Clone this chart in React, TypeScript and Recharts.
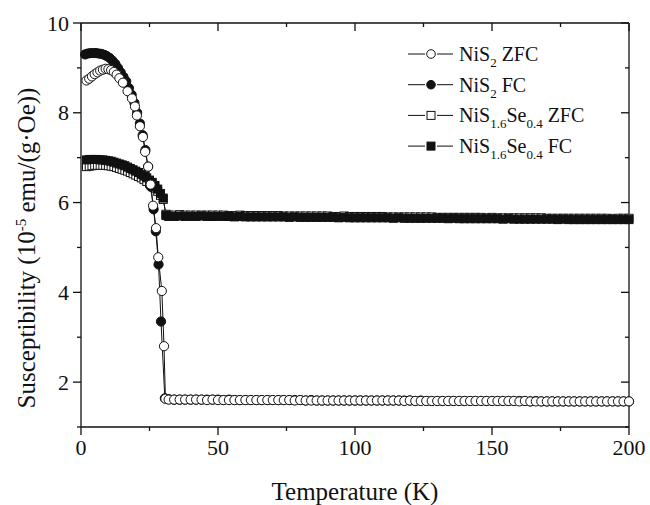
import { LineChart, Line, XAxis, YAxis } from "recharts";

const FONT = "'Liberation Serif', 'Times New Roman', serif";

// axis ticks
const xTicks = [0, 25, 50, 75, 100, 125, 150, 175, 200];
const xMajor = [0, 50, 100, 150, 200];
const yTicks = [1, 2, 3, 4, 5, 6, 7, 8, 9, 10];
const yMajor = [2, 4, 6, 8, 10];

// NiS2 ZFC, low temperature part
const nisZfcLowT = [2, 3, 4, 5, 6, 7, 8, 9, 10, 11, 12, 13, 14, 15.3, 17, 18.6, 19.7, 20.4, 21.5, 22.6, 23.4, 24.5, 25.4, 26.3, 27.4, 28.2, 29.5, 30.3, 30.8];
const nisZfcLowV = [8.72, 8.76, 8.81, 8.86, 8.9, 8.94, 8.96, 8.98, 8.97, 8.95, 8.91, 8.85, 8.77, 8.67, 8.48, 8.32, 8.14, 7.94, 7.7, 7.46, 7.13, 6.8, 6.4, 5.93, 5.43, 4.78, 4.03, 2.8, 1.63];

// NiS2 FC, low temperature part
const nisFcLowT = [1.5, 2.5, 3.5, 4.5, 5.5, 6.5, 7.5, 8.5, 9.5, 10.5, 11.5, 12.5, 13.5, 14.5, 15.5, 16.5, 17.5, 18.5, 19.5, 20.5, 21.5, 22.5, 23.5, 24.5, 25.5, 26.5, 27.3, 28.3, 29.2, 30.6];
const nisFcLowV = [9.3, 9.32, 9.33, 9.33, 9.33, 9.32, 9.31, 9.29, 9.26, 9.22, 9.16, 9.09, 9.0, 8.9, 8.8, 8.7, 8.55, 8.4, 8.22, 8.0, 7.76, 7.5, 7.17, 6.8, 6.35, 5.85, 5.36, 4.62, 3.35, 1.64];

// NiS1.6Se0.4, low temperature part
const seLowT = [2, 3, 4, 5, 6, 7, 8, 9, 10, 11, 12, 13, 14, 15, 16, 17, 18, 19, 20, 21, 22, 23, 24, 25, 26, 27, 28, 29, 30, 31];
const seZfcLowV = [6.8, 6.81, 6.82, 6.83, 6.83, 6.83, 6.83, 6.83, 6.82, 6.81, 6.8, 6.78, 6.76, 6.74, 6.72, 6.7, 6.67, 6.64, 6.61, 6.58, 6.55, 6.51, 6.47, 6.43, 6.38, 6.32, 6.25, 6.16, 6.07, 5.74];
const seFcLowV = [6.95, 6.96, 6.96, 6.96, 6.96, 6.95, 6.95, 6.94, 6.93, 6.92, 6.9, 6.88, 6.86, 6.84, 6.82, 6.79, 6.76, 6.73, 6.7, 6.67, 6.63, 6.59, 6.55, 6.5, 6.45, 6.38, 6.3, 6.2, 6.1, 5.71];

// above the transition, T = 32 ... 200 K
const highT = [
  32, 34, 36, 38, 40, 42, 44, 46, 48, 50,
  52, 54, 56, 58, 60, 62, 64, 66, 68, 70,
  72, 74, 76, 78, 80, 82, 84, 86, 88, 90,
  92, 94, 96, 98, 100, 102, 104, 106, 108, 110,
  112, 114, 116, 118, 120, 122, 124, 126, 128, 130,
  132, 134, 136, 138, 140, 142, 144, 146, 148, 150,
  152, 154, 156, 158, 160, 162, 164, 166, 168, 170,
  172, 174, 176, 178, 180, 182, 184, 186, 188, 190,
  192, 194, 196, 198, 200,
];
const nisZfcHighV = [
  1.61, 1.61, 1.61, 1.61, 1.61, 1.61, 1.61, 1.6, 1.61, 1.6,
  1.6, 1.6, 1.6, 1.6, 1.6, 1.6, 1.6, 1.6, 1.6, 1.6,
  1.6, 1.6, 1.6, 1.59, 1.6, 1.59, 1.59, 1.59, 1.59, 1.59,
  1.59, 1.59, 1.59, 1.59, 1.59, 1.59, 1.59, 1.59, 1.59, 1.59,
  1.59, 1.59, 1.59, 1.58, 1.59, 1.58, 1.58, 1.58, 1.58, 1.58,
  1.58, 1.58, 1.58, 1.58, 1.58, 1.58, 1.58, 1.58, 1.58, 1.58,
  1.58, 1.58, 1.58, 1.58, 1.57, 1.58, 1.57, 1.57, 1.57, 1.57,
  1.57, 1.57, 1.57, 1.57, 1.57, 1.57, 1.57, 1.57, 1.57, 1.57,
  1.57, 1.57, 1.57, 1.57, 1.57,
];
const nisFcHighV = [
  1.62, 1.61, 1.61, 1.61, 1.61, 1.61, 1.61, 1.61, 1.61, 1.61,
  1.6, 1.61, 1.6, 1.6, 1.6, 1.6, 1.6, 1.6, 1.6, 1.6,
  1.6, 1.6, 1.6, 1.6, 1.6, 1.59, 1.6, 1.59, 1.59, 1.59,
  1.59, 1.59, 1.59, 1.59, 1.59, 1.59, 1.59, 1.59, 1.59, 1.59,
  1.59, 1.59, 1.59, 1.59, 1.59, 1.58, 1.59, 1.58, 1.58, 1.58,
  1.58, 1.58, 1.58, 1.58, 1.58, 1.58, 1.58, 1.58, 1.58, 1.58,
  1.58, 1.58, 1.58, 1.58, 1.58, 1.58, 1.57, 1.58, 1.57, 1.57,
  1.57, 1.57, 1.57, 1.57, 1.57, 1.57, 1.57, 1.57, 1.57, 1.57,
  1.57, 1.57, 1.57, 1.57, 1.57,
];
const seZfcHighV = [
  5.72, 5.72, 5.73, 5.72, 5.72, 5.72, 5.72, 5.72, 5.72, 5.72,
  5.72, 5.71, 5.71, 5.72, 5.71, 5.71, 5.71, 5.71, 5.71, 5.71,
  5.71, 5.7, 5.7, 5.7, 5.7, 5.7, 5.7, 5.7, 5.7, 5.7,
  5.69, 5.69, 5.7, 5.69, 5.69, 5.69, 5.69, 5.69, 5.69, 5.69,
  5.68, 5.68, 5.68, 5.68, 5.68, 5.68, 5.68, 5.68, 5.68, 5.67,
  5.67, 5.67, 5.67, 5.67, 5.67, 5.67, 5.67, 5.67, 5.66, 5.67,
  5.66, 5.66, 5.66, 5.66, 5.66, 5.66, 5.66, 5.66, 5.66, 5.65,
  5.65, 5.65, 5.65, 5.65, 5.65, 5.65, 5.65, 5.65, 5.65, 5.65,
  5.65, 5.64, 5.65, 5.65, 5.65,
];
const seFcHighV = [
  5.69, 5.69, 5.7, 5.69, 5.69, 5.69, 5.7, 5.69, 5.69, 5.69,
  5.69, 5.69, 5.68, 5.69, 5.68, 5.68, 5.68, 5.68, 5.68, 5.68,
  5.68, 5.68, 5.67, 5.68, 5.67, 5.67, 5.67, 5.67, 5.67, 5.67,
  5.67, 5.66, 5.67, 5.66, 5.66, 5.66, 5.66, 5.66, 5.66, 5.66,
  5.66, 5.65, 5.66, 5.65, 5.65, 5.65, 5.65, 5.65, 5.65, 5.65,
  5.65, 5.64, 5.65, 5.64, 5.64, 5.64, 5.64, 5.64, 5.64, 5.64,
  5.64, 5.63, 5.64, 5.63, 5.63, 5.63, 5.63, 5.63, 5.63, 5.63,
  5.63, 5.62, 5.63, 5.62, 5.62, 5.62, 5.62, 5.62, 5.62, 5.62,
  5.62, 5.62, 5.62, 5.62, 5.62,
];

const rows = (t: number[], v: number[]) => t.map((x, i) => ({ t: x, v: v[i] }));

const nisZfc = rows([...nisZfcLowT, ...highT], [...nisZfcLowV, ...nisZfcHighV]);
const nisFc = rows([...nisFcLowT, ...highT], [...nisFcLowV, ...nisFcHighV]);
const seZfc = rows([...seLowT, ...highT], [...seZfcLowV, ...seZfcHighV]);
const seFc = rows([...seLowT, ...highT], [...seFcLowV, ...seFcHighV]);

const INK = "#111";

const openCircle = (p: any) => (
  <circle key={`oc${p.index}`} cx={p.cx} cy={p.cy} r={4.6} fill="#fff" stroke={INK} strokeWidth={1} />
);
const fullCircle = (p: any) => (
  <circle key={`fc${p.index}`} cx={p.cx} cy={p.cy} r={4.6} fill={INK} stroke={INK} strokeWidth={1} />
);
const openSquare = (p: any) => (
  <rect key={`os${p.index}`} x={p.cx - 4} y={p.cy - 4} width={8} height={8} fill="#fff" stroke={INK} strokeWidth={1} />
);
const fullSquare = (p: any) => (
  <rect key={`fs${p.index}`} x={p.cx - 4} y={p.cy - 4} width={8} height={8} fill={INK} stroke={INK} strokeWidth={1} />
);

const BottomTick = (p: any) => {
  const v = p.payload.value;
  const major = xMajor.includes(v);
  return (
    <g>
      <line x1={p.x} y1={p.y} x2={p.x} y2={p.y + (major ? 8 : 4)} stroke={INK} strokeWidth={1.3} />
      {major && (
        <text x={p.x} y={p.y + 28} textAnchor="middle" fontSize={22} fontFamily={FONT} fill={INK}>
          {v}
        </text>
      )}
    </g>
  );
};

const TopTick = (p: any) => {
  const major = xMajor.includes(p.payload.value);
  return <line x1={p.x} y1={p.y} x2={p.x} y2={p.y + (major ? 8 : 4)} stroke={INK} strokeWidth={1.3} />;
};

const LeftTick = (p: any) => {
  const v = p.payload.value;
  const major = yMajor.includes(v);
  return (
    <g>
      <line x1={p.x - (major ? 8 : 4)} y1={p.y} x2={p.x} y2={p.y} stroke={INK} strokeWidth={1.3} />
      {major && (
        <text x={p.x - 12} y={p.y + 7.5} textAnchor="end" fontSize={22} fontFamily={FONT} fill={INK}>
          {v}
        </text>
      )}
    </g>
  );
};

const RightTick = (p: any) => {
  const major = yMajor.includes(p.payload.value);
  return <line x1={p.x - (major ? 8 : 4)} y1={p.y} x2={p.x} y2={p.y} stroke={INK} strokeWidth={1.3} />;
};

const legendItems = [
  { parts: [["NiS", ""], ["2", "sub"], [" ZFC", ""]], mark: "oc" },
  { parts: [["NiS", ""], ["2", "sub"], [" FC", ""]], mark: "fc" },
  { parts: [["NiS", ""], ["1.6", "sub"], ["Se", ""], ["0.4", "sub"], [" ZFC", ""]], mark: "os" },
  { parts: [["NiS", ""], ["1.6", "sub"], ["Se", ""], ["0.4", "sub"], [" FC", ""]], mark: "fs" },
];

const LegendMark = ({ kind, x, y }: { kind: string; x: number; y: number }) => {
  if (kind === "oc") return <circle cx={x} cy={y} r={4.3} fill="#fff" stroke={INK} />;
  if (kind === "fc") return <circle cx={x} cy={y} r={4.3} fill={INK} stroke={INK} />;
  if (kind === "os") return <rect x={x - 4} y={y - 4} width={8} height={8} fill="#fff" stroke={INK} />;
  return <rect x={x - 4} y={y - 4} width={8} height={8} fill={INK} stroke={INK} />;
};

const axisLine = { stroke: INK, strokeWidth: 1.3 };

export default function App() {
  return (
    <div style={{ position: "absolute", left: 0, top: 0, width: 650, height: 505, background: "#fff" }}>
      <LineChart width={650} height={505} margin={{ top: 22, right: 20, left: 0, bottom: 0 }}>
        <XAxis
          xAxisId="b"
          dataKey="t"
          type="number"
          domain={[0, 200]}
          ticks={xTicks}
          interval={0}
          tickSize={0}
          tickMargin={0}
          tickLine={false}
          axisLine={axisLine}
          tick={BottomTick}
          height={78}
          label={() => (
            <text x={355} y={500} textAnchor="middle" fontSize={25} fontFamily={FONT} fill={INK}>
              Temperature (K)
            </text>
          )}
        />
        <XAxis
          xAxisId="t"
          orientation="top"
          dataKey="t"
          type="number"
          domain={[0, 200]}
          allowDataOverflow
          ticks={xTicks}
          interval={0}
          tickSize={0}
          tickMargin={0}
          tickLine={false}
          axisLine={axisLine}
          tick={TopTick}
          height={1}
        />
        <YAxis
          yAxisId="l"
          type="number"
          domain={[1, 10]}
          allowDataOverflow
          ticks={yTicks}
          interval={0}
          tickSize={0}
          tickMargin={0}
          tickLine={false}
          axisLine={axisLine}
          tick={LeftTick}
          width={81}
          label={() => (
            <text transform="rotate(-90)" x={-248} y={35} textAnchor="middle" fontSize={25} fontFamily={FONT} fill={INK}>
              Susceptibility (10
              <tspan dy={-9} fontSize={15}>-5</tspan>
              <tspan dy={9}> emu/(g·Oe))</tspan>
            </text>
          )}
        />
        <YAxis
          yAxisId="r"
          orientation="right"
          type="number"
          domain={[1, 10]}
          allowDataOverflow
          ticks={yTicks}
          interval={0}
          tickSize={0}
          tickMargin={0}
          tickLine={false}
          axisLine={axisLine}
          tick={RightTick}
          width={1}
        />
        <Line xAxisId="b" yAxisId="l" data={seZfc} dataKey="v" type="linear" stroke={INK} strokeWidth={1} dot={openSquare} isAnimationActive={false} />
        <Line xAxisId="b" yAxisId="l" data={seFc} dataKey="v" type="linear" stroke={INK} strokeWidth={1} dot={fullSquare} isAnimationActive={false} />
        <Line xAxisId="b" yAxisId="l" data={nisFc} dataKey="v" type="linear" stroke={INK} strokeWidth={1} dot={fullCircle} isAnimationActive={false} />
        <Line xAxisId="b" yAxisId="l" data={nisZfc} dataKey="v" type="linear" stroke={INK} strokeWidth={1} dot={openCircle} isAnimationActive={false} />
        {/* frame series keep the top and right axes alive */}
        <Line xAxisId="t" yAxisId="r" data={nisZfc} dataKey="v" stroke="none" dot={false} legendType="none" isAnimationActive={false} />
      </LineChart>
      <svg width={650} height={505} style={{ position: "absolute", left: 0, top: 0, pointerEvents: "none" }}>
        {legendItems.map((item, i) => {
          const cy = 54 + i * 30.7;
          return (
            <g key={i}>
              <line x1={408} y1={cy} x2={425} y2={cy} stroke={INK} strokeWidth={1} />
              <line x1={437} y1={cy} x2={453} y2={cy} stroke={INK} strokeWidth={1} />
              <LegendMark kind={item.mark} x={431} y={cy} />
              <text x={459} y={cy + 7} fontSize={20} fontFamily={FONT} fill={INK}>
                {item.parts.map(([s, k], j) => {
                  const prev = j > 0 && item.parts[j - 1][1] === "sub";
                  const dy = k === "sub" ? 6 : prev ? -6 : 0;
                  return (
                    <tspan key={j} dy={dy} fontSize={k === "sub" ? 13 : 20}>
                      {s}
                    </tspan>
                  );
                })}
              </text>
            </g>
          );
        })}
      </svg>
    </div>
  );
}
